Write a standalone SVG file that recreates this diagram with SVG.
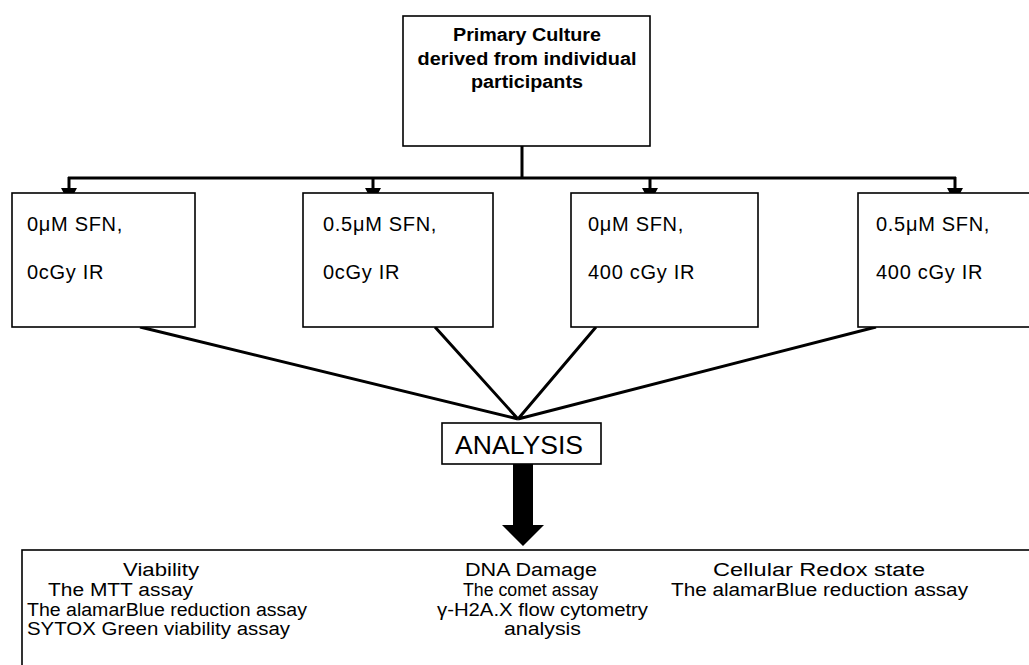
<svg xmlns="http://www.w3.org/2000/svg" width="1029" height="665" viewBox="0 0 1029 665">
<style>
.box{fill:#fff;stroke:#000;stroke-width:1.6}
.t{font-family:"Liberation Sans",Arial,sans-serif;fill:#000}
.bt{font-size:20px;letter-spacing:0.7px}
.hd{font-size:18px;font-weight:bold}
.bo{font-size:18px}
.bb{font-size:18px}
.ln{fill:none;stroke:#000;stroke-width:3}
</style>
<defs>
<marker id="ah" markerUnits="userSpaceOnUse" markerWidth="18" markerHeight="18" viewBox="0 0 18 18" refX="15" refY="9" orient="auto">
<path d="M0,1 L15,9 L0,17 z" fill="#000"/>
</marker>
</defs>
<g id="connectors">
<path class="ln" d="M522,146 V178 M68,178 H956"/>
<path class="ln" d="M69,177 V203" marker-end="url(#ah)"/>
<path class="ln" d="M373,177 V203" marker-end="url(#ah)"/>
<path class="ln" d="M650,177 V203" marker-end="url(#ah)"/>
<path class="ln" d="M955,177 V203" marker-end="url(#ah)"/>
<path class="ln" d="M140,327 L518,419 M435,327 L518,419 M596,327 L518,419 M876,327 L518,419"/>
<path d="M513,464 H533 V525 H544 L523,546 L502,525 H513 Z" fill="#000"/>
</g>
<g id="node-primary">
<rect class="box" x="403" y="16" width="247" height="130"/>
<text class="t hd" x="527" y="41" text-anchor="middle" textLength="148" lengthAdjust="spacingAndGlyphs">Primary Culture</text>
<text class="t hd" x="527" y="65" text-anchor="middle" textLength="219" lengthAdjust="spacingAndGlyphs">derived from individual</text>
<text class="t hd" x="527" y="88" text-anchor="middle" textLength="112" lengthAdjust="spacingAndGlyphs">participants</text>
</g>
<g id="node-c1">
<rect class="box" x="12" y="193" width="183" height="134"/>
<text class="t bt" x="27" y="231">0μM SFN,</text>
<text class="t bt" x="27" y="279">0cGy IR</text>
</g>
<g id="node-c2">
<rect class="box" x="303" y="193" width="190" height="134"/>
<text class="t bt" x="323" y="231">0.5μM SFN,</text>
<text class="t bt" x="323" y="279">0cGy IR</text>
</g>
<g id="node-c3">
<rect class="box" x="571" y="193" width="187" height="134"/>
<text class="t bt" x="588" y="231">0μM SFN,</text>
<text class="t bt" x="588" y="279">400 cGy IR</text>
</g>
<g id="node-c4">
<rect class="box" x="858" y="193" width="180" height="134"/>
<text class="t bt" x="876" y="231">0.5μM SFN,</text>
<text class="t bt" x="876" y="279">400 cGy IR</text>
</g>
<g id="node-analysis">
<rect class="box" x="442" y="423" width="159" height="41"/>
<text class="t" x="519" y="454" font-size="26" text-anchor="middle" textLength="128" lengthAdjust="spacingAndGlyphs">ANALYSIS</text>
</g>
<g id="node-results">
<rect class="box" x="22" y="550" width="1020" height="130"/>
<text class="t bb" x="123" y="576" textLength="76" lengthAdjust="spacingAndGlyphs">Viability</text>
<text class="t bo" x="48" y="596" textLength="145" lengthAdjust="spacingAndGlyphs">The MTT assay</text>
<text class="t bo" x="27" y="616" textLength="280" lengthAdjust="spacingAndGlyphs">The alamarBlue reduction assay</text>
<text class="t bo" x="27" y="635" textLength="263" lengthAdjust="spacingAndGlyphs">SYTOX Green viability assay</text>
<text class="t bb" x="465" y="576" textLength="132" lengthAdjust="spacingAndGlyphs">DNA Damage</text>
<text class="t bo" x="463" y="596" textLength="135" lengthAdjust="spacingAndGlyphs">The comet assay</text>
<text class="t bo" x="437" y="616" textLength="211" lengthAdjust="spacingAndGlyphs">γ-H2A.X flow cytometry</text>
<text class="t bo" x="504" y="635" textLength="77" lengthAdjust="spacingAndGlyphs">analysis</text>
<text class="t bb" x="713" y="576" textLength="212" lengthAdjust="spacingAndGlyphs">Cellular Redox state</text>
<text class="t bo" x="671" y="596" textLength="297" lengthAdjust="spacingAndGlyphs">The alamarBlue reduction assay</text>
</g>
</svg>
